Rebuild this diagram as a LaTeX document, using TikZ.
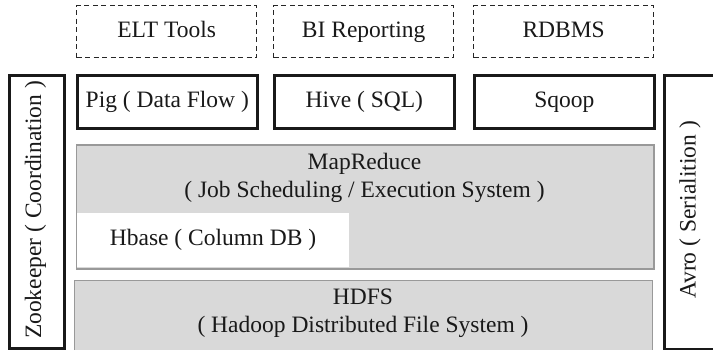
\documentclass[tikz,border=0pt]{standalone}
\usepackage{fontspec}
\setmainfont{Liberation Serif}
\begin{document}
\begin{tikzpicture}[x=1pt,y=-1pt,
  lbl/.style={font=\fontsize{23.5}{28}\selectfont, text=black!90},
  dbox/.style={draw=black!85, dashed, dash pattern=on 5pt off 3.5pt, line width=1.3pt, anchor=north west, minimum width=180pt, minimum height=52pt, inner sep=0pt, text height=16pt, text depth=5pt, lbl},
  bbox/.style={draw=black!90, line width=2.6pt, anchor=north west, minimum width=180pt, minimum height=53pt, inner sep=0pt, text height=16pt, text depth=5pt, lbl},
  gbox/.style={draw=black!40, fill=black!15, line width=1pt, anchor=north west, inner sep=0pt},
  vbox/.style={draw=black!90, line width=2.6pt, anchor=north west, inner sep=0pt}]
\useasboundingbox (0,0) rectangle (713,350);
\begin{scope}
\clip (0,0) rectangle (713,350);
% dashed top row
\node[dbox] (elt) at (76,5) {ELT Tools};
\node[dbox] (bi) at (273,5) {BI Reporting};
\node[dbox] (rdb) at (473,5) {RDBMS};
% black second row
\node[bbox] (pig) at (76,74) {Pig ( Data Flow )};
\node[bbox] (hive) at (273,74) {Hive ( SQL)};
\node[bbox] (sqoop) at (473,74) {Sqoop};
% side boxes
\node[vbox, minimum width=55pt, minimum height=273pt] (zoo) at (8,74) {};
\node[lbl, rotate=90] (zootxt) at (35.5,210) {Zookeeper ( Coordination )};
\node[vbox, minimum width=56pt, minimum height=274pt] (avro) at (663,74) {};
\node[lbl, rotate=90] (avrotxt) at (690,210) {Avro ( Serialition )};
% MapReduce
\node[gbox, minimum width=577pt, minimum height=123pt] (mr) at (76,145) {};
\node[lbl, align=center] (mrtxt) at (364.5,178) {MapReduce\\( Job Scheduling / Execution System )};
\node[fill=white, anchor=north west, minimum width=272pt, minimum height=54pt, inner sep=0pt] (hbase) at (77,213) {};
\node[lbl] (hbtxt) at (213,240) {Hbase ( Column DB )};
\draw[draw=black!40, line width=1pt] (mr.north west) rectangle (mr.south east);
% HDFS
\node[gbox, minimum width=578pt, minimum height=80pt] (hdfs) at (74,280) {};
\node[lbl, align=center] (hdfstxt) at (363,313) {HDFS\\( Hadoop Distributed File System )};
\end{scope}
\end{tikzpicture}
\end{document}
